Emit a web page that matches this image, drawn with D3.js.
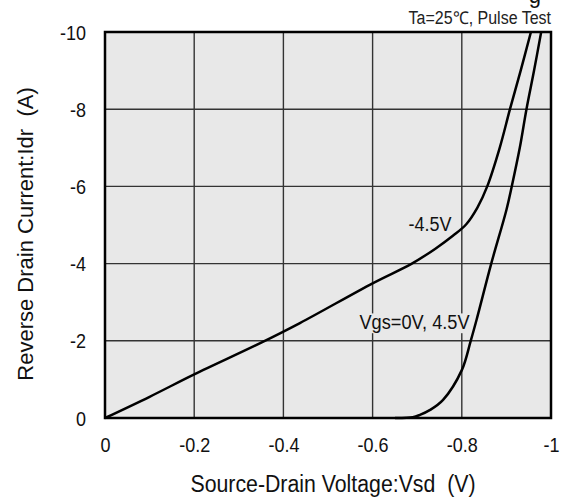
<!DOCTYPE html>
<html lang="en">
<head>
<meta charset="UTF-8">
<title>Reverse Drain Current vs Source-Drain Voltage</title>
<script src="https://d3js.org/d3.v7.min.js"></script>
<style>
    body { margin: 0; background: #fff; }
    svg text { font-family: Arial, "Liberation Sans", sans-serif; fill: #111; white-space: pre; }
    .grid line { stroke: #333; stroke-width: 1.4; }
    .curve { fill: none; stroke: #000; stroke-width: 2.5; }
</style>
</head>
<body>
<svg id="chart" width="564" height="500"></svg>
<script>
// x: Vsd (V), y: Idr (A)
const xTicks = [0, -0.2, -0.4, -0.6, -0.8, -1];
const yTicks = [0, -2, -4, -6, -8, -10];

// Vgs = -4.5V
const vsdNeg45 = [0, -0.1, -0.2, -0.348, -0.437, -0.6, -0.688, -0.74, -0.78, -0.81, -0.835, -0.857, -0.885, -0.908, -0.932, -0.955];
const idrNeg45 = [0, -0.55, -1.13, -1.94, -2.46, -3.49, -4.0, -4.38, -4.72, -5.02, -5.45, -6.0, -7.0, -8.0, -9.0, -10.0];

// Vgs = 0V, 4.5V
const vsdZero = [-0.65, -0.69, -0.706, -0.729, -0.758, -0.8, -0.82, -0.833, -0.866, -0.9, -0.912, -0.93, -0.945, -0.962, -0.978];
const idrZero = [0, -0.02, -0.08, -0.21, -0.47, -1.24, -2.0, -2.54, -4.0, -5.39, -6.0, -7.0, -8.0, -9.0, -10.0];

const svg = d3.select("#chart");
const x = d3.scaleLinear().domain([0, -1]).range([105, 551]);
const y = d3.scaleLinear().domain([0, -10]).range([418, 32]);
const stretch = 1.1; // the source text is a little taller than wide

// horizontal text placed by its baseline, slightly stretched vertically
function label(sel, tx, ty, str, size, anchor) {
    return sel.append("text")
        .attr("transform", `translate(${tx},${ty}) scale(1,${stretch})`)
        .attr("text-anchor", anchor || "middle")
        .attr("font-size", size)
        .text(str);
}

// plot background
svg.append("rect")
    .attr("x", x(0)).attr("y", y(-10))
    .attr("width", x(-1) - x(0)).attr("height", y(0) - y(-10))
    .attr("fill", "#e8e8e8");

// gridlines
const grid = svg.append("g").attr("class", "grid");
grid.selectAll(".vx").data(xTicks.slice(1, -1)).enter().append("line")
    .attr("x1", d => x(d)).attr("x2", d => x(d))
    .attr("y1", y(0)).attr("y2", y(-10));
grid.selectAll(".hy").data(yTicks.slice(1, -1)).enter().append("line")
    .attr("x1", x(0)).attr("x2", x(-1))
    .attr("y1", d => y(d)).attr("y2", d => y(d));

// axes (labels only)
const fmt = d => d === 0 ? "0" : String(d);
const xAxis = svg.append("g")
    .attr("transform", `translate(0,452)`)
    .call(d3.axisBottom(x).tickValues(xTicks).tickSize(0).tickFormat(fmt));
xAxis.select(".domain").remove();
xAxis.selectAll("text")
    .attr("y", 0).attr("dy", null)
    .attr("transform", `scale(1,${stretch})`)
    .style("font-size", "18px").style("fill", "#111")
    .style("font-family", "Arial, 'Liberation Sans', sans-serif");

const yAxis = svg.append("g")
    .attr("transform", `translate(86,0)`)
    .call(d3.axisLeft(y).tickValues(yTicks).tickSize(0).tickFormat(fmt));
yAxis.select(".domain").remove();
yAxis.selectAll("text")
    .attr("x", 0).attr("dy", null)
    .attr("transform", `translate(0,7) scale(1,${stretch})`)
    .style("font-size", "18px").style("fill", "#111")
    .style("font-family", "Arial, 'Liberation Sans', sans-serif");

// label background for the lower curve label (cuts gridlines)
const labelLayer = svg.append("g");

// curves
const line = d3.line().x(d => x(d[0])).y(d => y(d[1])).curve(d3.curveCatmullRom.alpha(0.5));
svg.append("path").attr("class", "curve")
    .attr("d", line(d3.zip(vsdNeg45, idrNeg45)));
svg.append("path").attr("class", "curve")
    .attr("d", line(d3.zip(vsdZero, idrZero)));

// curve labels
label(svg, 430, 231, "-4.5V", 18);
const lab = label(labelLayer, 414.5, 329, "Vgs=0V, 4.5V", 18.2);
const bb = lab.node().getBBox();
labelLayer.insert("rect", "text")
    .attr("transform", lab.attr("transform"))
    .attr("x", bb.x - 1).attr("y", bb.y + 2).attr("width", bb.width + 2).attr("height", bb.height - 2)
    .attr("fill", "#e8e8e8");

// frame
svg.append("rect")
    .attr("x", x(0)).attr("y", y(-10))
    .attr("width", x(-1) - x(0)).attr("height", y(0) - y(-10))
    .attr("fill", "none").attr("stroke", "#000").attr("stroke-width", 2.5);

// cut-off title above the chart (only its descender shows, as in the source)
label(svg, 541, 3, "g", 22, "end");

// condition note
label(svg, 551, 24, "Ta=25℃, Pulse Test", 16, "end").style("fill", "#222");

// axis titles
label(svg, 333, 492, "Source-Drain Voltage:Vsd  (V)", 21.3);
svg.append("text")
    .attr("transform", `translate(33,234) rotate(-90)`)
    .attr("text-anchor", "middle").attr("font-size", 22)
    .text("Reverse Drain Current:Idr  (A)");
</script>
</body>
</html>
